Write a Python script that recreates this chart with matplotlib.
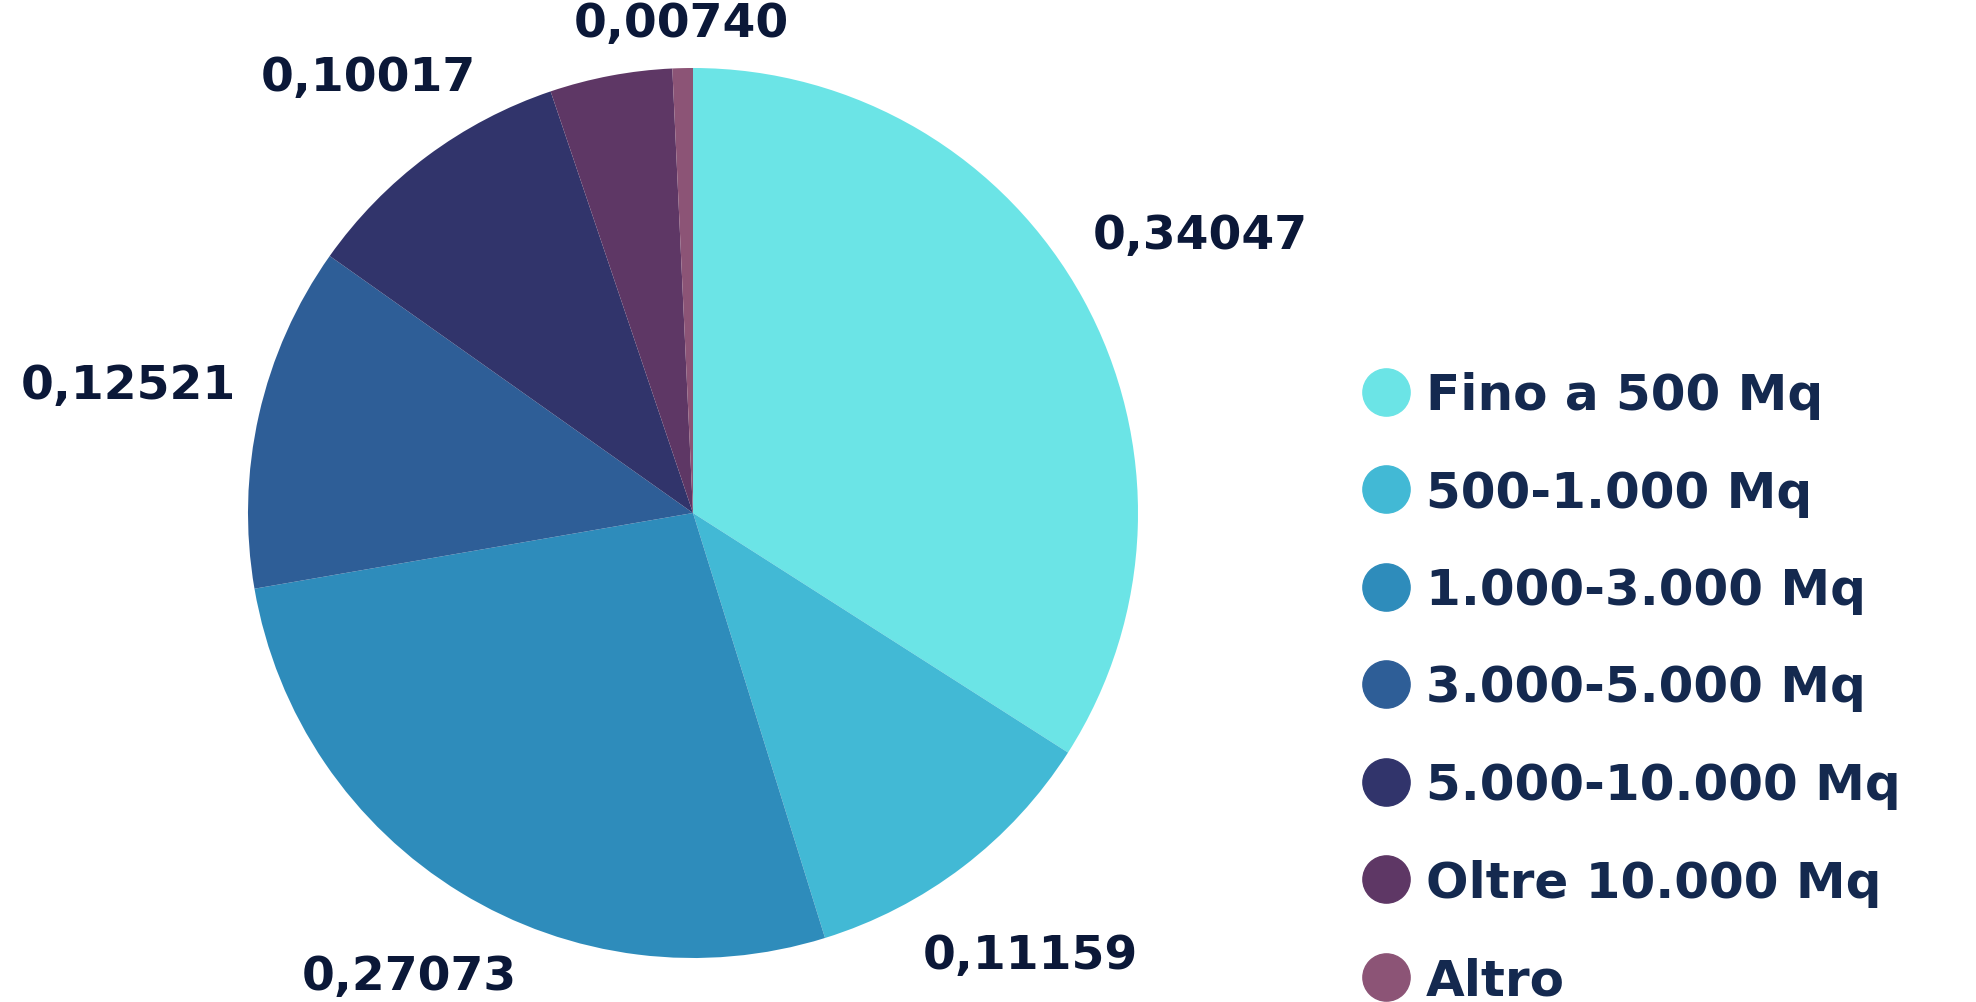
import matplotlib
matplotlib.use("Agg")
import matplotlib.pyplot as plt
from matplotlib.lines import Line2D
import numpy as np

categories = ["Fino a 500 Mq", "500-1.000 Mq", "1.000-3.000 Mq", "3.000-5.000 Mq",
              "5.000-10.000 Mq", "Oltre 10.000 Mq", "Altro"]
values = [0.34047, 0.11159, 0.27073, 0.12521, 0.10017, 0.04443, 0.00740]
value_labels = ["0,34047", "0,11159", "0,27073", "0,12521", "0,10017", "", "0,00740"]
colors = ["#6BE4E6", "#42B9D5", "#2E8CBB", "#2E5E97", "#31346B", "#5E3765", "#8C5476"]

# layout (label radial distances, in pie radii)
label_r = [1.30, 1.25, 1.22, 1.30, 1.22, 1.2, 1.10]

W, H = 1976, 1003
fig = plt.figure(figsize=(W / 100, H / 100), dpi=100)
fig.patch.set_facecolor("white")

cx, cy, R = 693, 514, 445
ax = fig.add_axes([(cx - R) / W, (H - cy - R) / H, 2 * R / W, 2 * R / H])
wedges, _ = ax.pie(values, colors=colors, startangle=90, counterclock=False,
                   radius=1, wedgeprops=dict(linewidth=0))
ax.set_xlim(-1, 1)
ax.set_ylim(-1, 1)
ax.set_aspect("equal")
ax.axis("off")

label_color = "#0B1838"
for w, lab, r in zip(wedges, value_labels, label_r):
    if not lab:
        continue
    ang = np.deg2rad((w.theta1 + w.theta2) / 2)
    ax.text(r * np.cos(ang), r * np.sin(ang), lab, ha="center", va="center",
            fontsize=34, fontweight="bold", color=label_color,
            family="DejaVu Sans", clip_on=False)

handles = [Line2D([0], [0], marker="o", linestyle="none", markersize=34,
                  markerfacecolor=c, markeredgecolor=c) for c in colors]
fs = 36
leg = fig.legend(handles, categories, loc="upper left",
                 bbox_to_anchor=(1361 / W, (H - 372) / H),
                 frameon=False, fontsize=fs, labelspacing=0.99,
                 handlelength=1.0, handletextpad=0.30, borderpad=0,
                 borderaxespad=0,
                 prop=dict(family="DejaVu Sans", weight="bold", size=fs))
for t in leg.get_texts():
    t.set_color("#14294F")

fig.savefig("out.png", dpi=100, facecolor="white")
